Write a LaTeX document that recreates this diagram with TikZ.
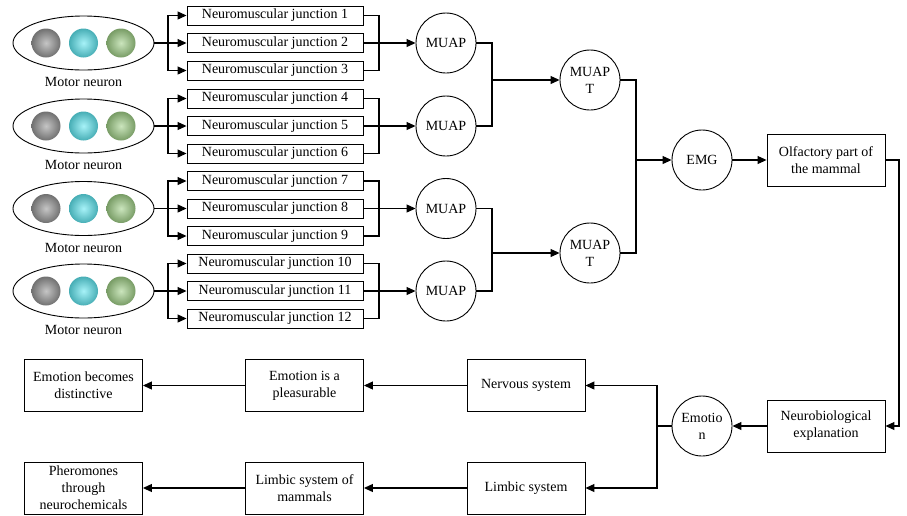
\documentclass[tikz,border=0pt]{standalone}
\usepackage{fontspec}
\setmainfont{Liberation Serif}
\usetikzlibrary{positioning,shapes.geometric,arrows.meta}
\definecolor{ballgray}{RGB}{150,150,150}
\definecolor{ballcyan}{RGB}{95,232,242}
\definecolor{ballgreen}{RGB}{160,208,135}
\tikzset{
  box/.style={draw, rectangle, minimum width=118pt, minimum height=52pt, align=center, inner sep=1pt, line width=0.9pt},
  jbox/.style={draw, rectangle, minimum width=176pt, minimum height=19pt, inner sep=0pt, line width=0.9pt},
  circ/.style={draw, circle, minimum size=60pt, inner sep=0pt, align=center, line width=0.9pt},
  ball/.style={circle, minimum size=29pt, inner sep=0pt, shading=radial, inner color=#1!55!white, middle color=#1, outer color=#1!75!black},
  link/.style={line width=1.1pt},
  arr/.style={line width=1.1pt, -{Triangle[length=9pt,width=8pt]}}
}
\begin{document}
\begin{tikzpicture}[x=1pt,y=-1pt,font=\fontsize{14}{17}\selectfont]
\useasboundingbox (0,0) rectangle (907,515);
\foreach \g/\c/\ja/\jb/\jc in {1/43/1/2/3,2/126/4/5/6,3/208.5/7/8/9,4/291/10/11/12}{
  \node[draw, ellipse, minimum width=141pt, minimum height=54pt, line width=0.9pt] (mn\g) at (83.5,\c) {};
  \node[ball=ballgray] (ba\g) at (46,\c) {};
  \node[ball=ballcyan] (bb\g) at (83.5,\c) {};
  \node[ball=ballgreen] (bc\g) at (121,\c) {};
  \node (lab\g) at (83.5,\c+39) {Motor neuron};
  \node[jbox] (ja\g) at (275,\c-27.5) {Neuromuscular junction \ja};
  \node[jbox] (jb\g) at (275,\c) {Neuromuscular junction \jb};
  \node[jbox] (jc\g) at (275,\c+27.5) {Neuromuscular junction \jc};
  \node[circ] (mu\g) at (446,\c) {MUAP};
  \coordinate (s\g) at (168,\c);
  \coordinate (m\g) at (379,\c);
  \draw[link] (mn\g.east) -- (s\g);
  \draw[arr] (s\g) |- (ja\g.west);
  \draw[arr] (s\g) -- (jb\g.west);
  \draw[arr] (s\g) |- (jc\g.west);
  \draw[link] (ja\g.east) -| (m\g) |- (jc\g.east);
  \draw[arr] (jb\g.east) -- (mu\g.west);
}
\node[circ] (t1) at (590,80) {MUAP\\T};
\node[circ] (t2) at (590,253) {MUAP\\T};
\node[circ] (emg) at (702,160) {EMG};
\node[box] (olf) at (826,160) {Olfactory part of\\the mammal};
\node[box] (neuro) at (826,426) {Neurobiological\\explanation};
\node[circ] (emo) at (702,426) {Emotio\\n};
\node[box] (nerv) at (526,385.5) {Nervous system};
\node[box] (limb) at (526,488) {Limbic system};
\node[box] (pleas) at (304.5,385.5) {Emotion is a\\pleasurable};
\node[box] (lmam) at (304.5,488) {Limbic system of\\mammals};
\node[box] (dist) at (83.5,385.5) {Emotion becomes\\distinctive};
\node[box, inner sep=0pt] (phero) at (83.5,488) {Pheromones\\through\\neurochemicals};
\coordinate (k1) at (492,80);
\coordinate (k2) at (492,253);
\coordinate (k3) at (636,160);
\coordinate (r1) at (899,300);
\coordinate (e1) at (657,426);
\draw[link] (mu1.east) -| (k1) |- (mu2.east);
\draw[link] (mu3.east) -| (k2) |- (mu4.east);
\draw[arr] (k1) -- (t1);
\draw[arr] (k2) -- (t2);
\draw[link] (t1.east) -| (k3) |- (t2.east);
\draw[arr] (k3) -- (emg);
\draw[arr] (emg) -- (olf);
\draw[arr] (olf.east) -| (r1) |- (neuro.east);
\draw[arr] (neuro) -- (emo);
\draw[link] (emo.west) -- (e1);
\draw[arr] (e1) |- (nerv.east);
\draw[arr] (e1) |- (limb.east);
\draw[arr] (nerv) -- (pleas);
\draw[arr] (pleas) -- (dist);
\draw[arr] (limb) -- (lmam);
\draw[arr] (lmam) -- (phero);
\end{tikzpicture}
\end{document}
